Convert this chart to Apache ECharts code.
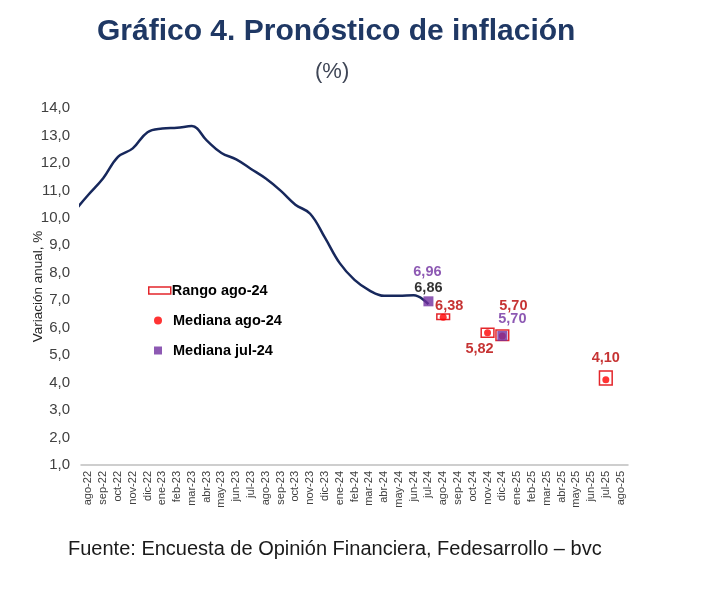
<!DOCTYPE html>
<html>
<head>
<meta charset="utf-8">
<script src="https://cdn.jsdelivr.net/npm/echarts@6/dist/echarts.min.js"></script>
<style>html,body{margin:0;padding:0;background:#fff}#c{width:714px;height:606px}</style>
</head>
<body>
<div id="c"></div>
<script>
// Month categories (x axis)
const categories = ['ago-22','sep-22','oct-22','nov-22','dic-22','ene-23','feb-23','mar-23','abr-23','may-23','jun-23','jul-23','ago-23','sep-23','oct-23','nov-23','dic-23','ene-24','feb-24','mar-24','abr-24','may-24','jun-24','jul-24','ago-24','sep-24','oct-24','nov-24','dic-24','ene-25','feb-25','mar-25','abr-25','may-25','jun-25','jul-25','ago-25'];
// Observed inflation (starts one month before the first category: jul-22)
const lineMonths = ['jul-22','ago-22','sep-22','oct-22','nov-22','dic-22','ene-23','feb-23','mar-23','abr-23','may-23','jun-23','jul-23','ago-23','sep-23','oct-23','nov-23','dic-23','ene-24','feb-24','mar-24','abr-24','may-24','jun-24','jul-24'];
const lineValues = [10.21,10.84,11.44,12.22,12.53,13.12,13.25,13.28,13.34,12.82,12.36,12.13,11.78,11.43,10.99,10.48,10.15,9.28,8.35,7.74,7.36,7.16,7.16,7.18,6.86];
// Survey ago-24
const rangeMonths = ['ago-24','nov-24','dic-24','jul-25'];
const rangeLow = [6.30,5.65,5.53,3.91];
const rangeHigh = [6.50,5.98,5.92,4.42];
const medAgoMonths = ['ago-24','nov-24','dic-24','jul-25'];
const medAgoValues = [6.38,5.82,5.70,4.10];
// Survey jul-24
const medJulMonths = ['jul-24','dic-24'];
const medJulValues = [6.96,5.70];
const yTicks = {min:1, max:14, interval:1};

const FONT = 'Arial, "Liberation Sans", sans-serif';
const fmt = v => v.toFixed(2).replace('.', ',');
const RED = '#E3262B', DRED = '#B80000', PURPLE = '#7030A0', NAVY = '#17285C';

function idx(m){ return categories.indexOf(m); }
// position of jul-22 is one slot before ago-22
function lineIdx(m){ return m === 'jul-22' ? -1 : idx(m); }

const medAgoLabelCfg = [
  {position:'top', distance:0, offset:[6,0]},
  {position:'bottom', distance:5, offset:[-8,0]},
  {position:'top', distance:5, offset:[11,-14]},
  {position:'top', distance:5, offset:[0,-6]}
];
const medJulLabelCfg = [
  {position:'top', distance:5, offset:[-1,-12]},
  {position:'top', distance:5, offset:[10,1]}
];

const legendText = pad => ({fontSize:14.5, fontWeight:'bold', color:'#000', fontFamily:FONT, padding:pad});

const chart = echarts.init(document.getElementById('c'), null, {renderer:'canvas'});
chart.setOption({
  animation:false,
  backgroundColor:'#fff',
  textStyle:{fontFamily:FONT},
  title:[
    {text:'Gráfico 4. Pronóstico de inflación', left:92, top:12,
     textStyle:{fontSize:30, fontWeight:'bold', color:'#1F3864', fontFamily:FONT}},
    {text:'(%)', left:310, top:56,
     textStyle:{fontSize:22, fontWeight:'normal', color:'#3F4656', fontFamily:FONT}},
    {text:'Fuente: Encuesta de Opinión Financiera, Fedesarrollo – bvc', left:63, top:534,
     textStyle:{fontSize:20, fontWeight:'normal', color:'#1a1a1a', fontFamily:FONT}}
  ],
  legend:[
    {left:148, top:283, padding:0, orient:'vertical', itemWidth:22, itemHeight:7,
     textStyle:legendText([0,0,0,-4]),
     data:[{name:'Rango ago-24', icon:'rect', itemStyle:{color:'#fff', borderColor:RED, borderWidth:1.5}}]},
    {left:154, top:313, padding:0, orient:'vertical', itemWidth:8, itemHeight:8,
     textStyle:legendText([0,0,0,6]),
     data:[{name:'Mediana ago-24', icon:'circle', itemStyle:{color:'#FF0000'}}]},
    {left:154, top:343, padding:0, orient:'vertical', itemWidth:8, itemHeight:8,
     textStyle:legendText([0,0,0,6]),
     data:[{name:'Mediana jul-24', icon:'rect', itemStyle:{color:PURPLE}}]}
  ],
  grid:{left:81, right:86, top:108, bottom:141, containLabel:false},
  xAxis:[
    {type:'category', data:categories, boundaryGap:true,
     axisLine:{lineStyle:{color:'#BFBFBF', width:1.5}}, axisTick:{show:false},
     axisLabel:{rotate:90, interval:0, fontSize:11, color:'#404040', margin:6, fontFamily:FONT}},
    {type:'value', min:-0.5, max:categories.length-0.5, show:false}
  ],
  yAxis:{type:'value', min:yTicks.min, max:yTicks.max, interval:yTicks.interval,
    name:'Variación anual, %', nameLocation:'middle', nameGap:36, nameRotate:90, nameMoveOverlap:false,
    nameTextStyle:{fontSize:13.5, color:'#262626', fontFamily:FONT},
    axisLine:{show:false}, axisTick:{show:false}, splitLine:{show:false},
    axisLabel:{fontSize:15, color:'#404040', margin:11, fontFamily:FONT,
      formatter:v => v.toFixed(1).replace('.', ',')}},
  series:[
    {name:'Inflación', type:'line', xAxisIndex:1, yAxisIndex:0, smooth:0.4, showSymbol:false,
     clip:true, z:2, lineStyle:{color:NAVY, width:2.5},
     data:lineMonths.map((m,i)=>[lineIdx(m), lineValues[i]])},
    {name:'Último dato', type:'scatter', xAxisIndex:1, symbolSize:1, z:6, silent:true,
     itemStyle:{color:'rgba(0,0,0,0)'},
     label:{show:true, position:'top', distance:8, offset:[0,0], fontSize:14.5, fontWeight:'bold', color:'#000',
       fontFamily:FONT, formatter:p => fmt(p.value[1])},
     data:[[lineIdx(lineMonths[lineMonths.length-1]), lineValues[lineValues.length-1]]]},
    {name:'Rango ago-24', type:'custom', xAxisIndex:0, z:3,
     itemStyle:{color:'#fff', borderColor:RED, borderWidth:1.5},
     renderItem:(params, api) => {
       const lo = api.coord([api.value(0), api.value(1)]);
       const hi = api.coord([api.value(0), api.value(2)]);
       const w = api.size([1,0])[0]*0.86;
       return {type:'rect', shape:{x:lo[0]-w/2, y:hi[1], width:w, height:lo[1]-hi[1]},
         style:{fill:'#fff', stroke:RED, lineWidth:1.5}};
     },
     encode:{x:0, y:[1,2]},
     data:rangeMonths.map((m,i)=>[idx(m), rangeLow[i], rangeHigh[i]])},
    {name:'Mediana ago-24', type:'scatter', xAxisIndex:0, symbol:'circle', symbolSize:7, z:4,
     itemStyle:{color:'#FF0000'},
     data:medAgoMonths.map((m,i)=>({value:[idx(m), medAgoValues[i]],
       label:Object.assign({show:true, fontSize:14.5, fontWeight:'bold', color:DRED, fontFamily:FONT,
         formatter:p=>fmt(p.value[1])}, medAgoLabelCfg[i])}))},
    {name:'Mediana jul-24', type:'scatter', xAxisIndex:0, symbol:'rect', symbolSize:10, z:5,
     itemStyle:{color:PURPLE},
     data:medJulMonths.map((m,i)=>({value:[idx(m), medJulValues[i]],
       label:Object.assign({show:true, fontSize:14.5, fontWeight:'bold', color:PURPLE, fontFamily:FONT,
         formatter:p=>fmt(p.value[1])}, medJulLabelCfg[i])}))}
  ]
});
</script>
</body>
</html>
